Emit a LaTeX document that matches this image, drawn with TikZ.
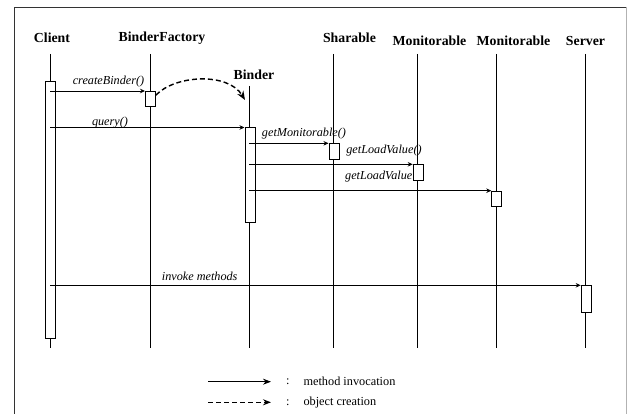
\documentclass[tikz,border=0pt]{standalone}
\usepackage{fontspec}
\setmainfont{Liberation Serif}
\usetikzlibrary{arrows.meta}
\begin{document}
\begin{tikzpicture}[x=1pt,y=-1pt,
 title/.style={font=\fontsize{13.8}{15}\selectfont\bfseries, inner sep=0},
 lbl/.style={font=\fontsize{12.2}{14}\selectfont\itshape, inner sep=0},
 legtext/.style={font=\fontsize{12.3}{14}\selectfont, inner sep=0, anchor=west},
 life/.style={line width=0.9pt},
 act/.style={draw, fill=white, line width=0.9pt, minimum width=10pt, inner sep=0, anchor=north west},
 msg/.style={line width=0.8pt, -{Stealth[length=5pt,width=4.5pt]}},
 legmsg/.style={line width=0.9pt, -{Stealth[length=8pt,width=6pt]}},
 create/.style={line width=1.4pt, dash pattern=on 5pt off 3pt, -{Stealth[length=9pt,width=7pt]}}]
\useasboundingbox (0,0) rectangle (627,414);
% frame
\draw[black!80, line width=0.9pt] (14,414) -- (14,7) -- (626,7);
\draw[gray!60, line width=0.9pt] (626,7) -- (626,414);

% titles
\node[title] (tCl) at (52,38) {Client};
\node[title] (tBF) at (162,38) {BinderFactory};
\node[title] (tBi) at (254,75) {Binder};
\node[title] (tSh) at (349.5,37.5) {Sharable};
\node[title] (tM1) at (429.5,41) {Monitorable};
\node[title] (tM2) at (513.5,41) {Monitorable};
\node[title] (tSe) at (585.5,41) {Server};

% lifelines
\coordinate (clT) at (50,54);   \coordinate (clB) at (50,348);
\coordinate (bfT) at (150,54);  \coordinate (bfB) at (150,348);
\coordinate (biT) at (249.3,86);\coordinate (biB) at (249.3,348);
\coordinate (shT) at (333.5,54);\coordinate (shB) at (333.5,348);
\coordinate (m1T) at (417.5,54);\coordinate (m1B) at (417.5,348);
\coordinate (m2T) at (496.3,54);\coordinate (m2B) at (496.3,348);
\coordinate (seT) at (585.5,54);\coordinate (seB) at (585.5,348);
\foreach \a/\b in {clT/clB,bfT/bfB,biT/biB,shT/shB,m1T/m1B,m2T/m2B,seT/seB}
  \draw[life] (\a) -- (\b);

% activation boxes
\node[act, minimum height=257pt] (aCl) at (45,81) {};
\node[act, minimum height=15pt] (aBF) at (145,91) {};
\node[act, minimum height=95pt] (aBi) at (244.5,127.5) {};
\node[act, minimum height=15.5pt] (aSh) at (328.5,143.3) {};
\node[act, minimum height=16pt] (aM1) at (412.7,164.3) {};
\node[act, minimum height=15.5pt] (aM2) at (491.3,190.7) {};
\node[act, minimum height=26.5pt] (aSe) at (580.7,285.3) {};

% messages
\coordinate (s1) at (50,91);
\draw[msg] (s1) -- (aBF.north west);
\node[lbl] (l1) at (108.5,81.5) {createBinder()};

\coordinate (s2) at (50,127.5);
\draw[msg] (s2) -- (aBi.north west);
\node[lbl] (l2) at (110,123) {query()};

\coordinate (s3) at (249.3,143.3);
\draw[msg] (s3) -- (aSh.north west);
\node[lbl] (l3) at (304,134) {getMonitorable()};

\coordinate (s4) at (249.3,164.3);
\draw[msg] (s4) -- (aM1.north west);
\node[lbl] (l4) at (384,150.5) {getLoadValue()};

\coordinate (s5) at (249.3,190.7);
\draw[msg] (s5) -- (aM2.north west);
\node[lbl, anchor=west] (l5) at (345,176.5) {getLoadValue};

\coordinate (s6) at (50,285.3);
\draw[msg] (s6) -- (aSe.north west);
\node[lbl] (l6) at (199.7,276) {invoke methods};

% creation
\coordinate (binEnd) at (245,100);
\draw[create] (aBF.35) .. controls (175,75) and (228,72) .. (binEnd);

% legend
\coordinate (la1) at (208,381.7); \coordinate (lb1) at (271,381.7);
\coordinate (la2) at (208,402.3); \coordinate (lb2) at (271,402.3);
\draw[legmsg] (la1) -- (lb1);
\draw[legmsg, line width=1.4pt, dash pattern=on 5pt off 3pt] (la2) -- (lb2);
\node[legtext] (c1) at (286,381.7) {:};
\node[legtext] (c2) at (286,402.3) {:};
\node[legtext] (t1) at (303.3,381.7) {method invocation};
\node[legtext] (t2) at (303.3,402.3) {object creation};
\end{tikzpicture}
\end{document}
